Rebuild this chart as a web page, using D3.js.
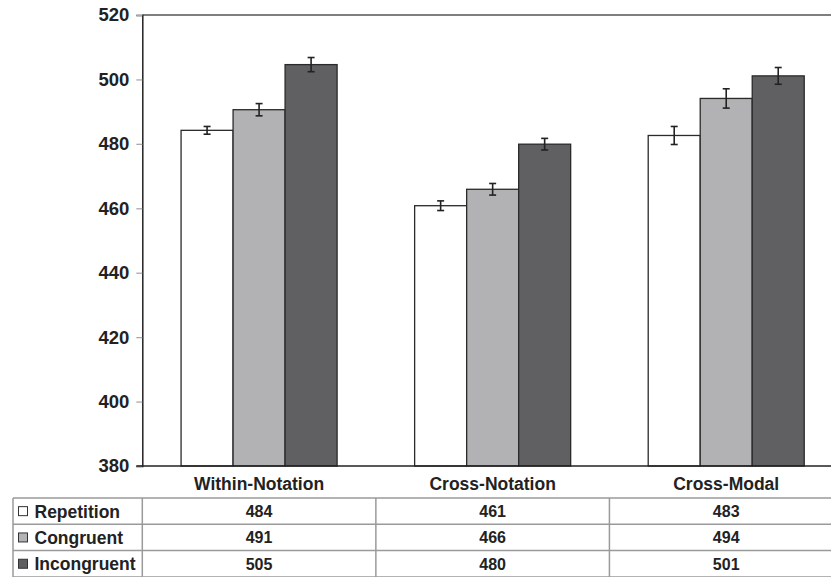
<!DOCTYPE html>
<html>
<head>
<meta charset="utf-8">
<script src="https://cdn.jsdelivr.net/npm/d3@7"></script>
<style>
  html, body { margin: 0; padding: 0; background: #fff; }
  svg { display: block; }
  text { font-family: "Liberation Sans", Arial, sans-serif; font-weight: bold; fill: #222; }
</style>
</head>
<body>
<svg id="chart" width="831" height="577"></svg>
<script>
const categories = ["Within-Notation", "Cross-Notation", "Cross-Modal"];
const seriesNames = ["Repetition", "Congruent", "Incongruent"];
const repetition = [484.2, 460.8, 482.6];
const congruent = [490.6, 465.9, 494.1];
const incongruent = [504.6, 479.9, 501.1];
const repetitionErr = [1.2, 1.5, 2.8];
const congruentErr = [1.9, 1.8, 3.0];
const incongruentErr = [2.2, 1.8, 2.6];
const yTicks = [380, 400, 420, 440, 460, 480, 500, 520];
const colors = ["#ffffff", "#b2b2b4", "#606062"];

const series = [
  { name: seriesNames[0], values: repetition, errs: repetitionErr, color: colors[0] },
  { name: seriesNames[1], values: congruent, errs: congruentErr, color: colors[1] },
  { name: seriesNames[2], values: incongruent, errs: incongruentErr, color: colors[2] }
];

const svg = d3.select("#chart");
const plotLeft = 142.3, plotRight = 843, plotTop = 15, plotBottom = 466;

const y = d3.scaleLinear().domain([380, 520]).range([plotBottom, plotTop]);
const x0 = d3.scaleBand().domain(categories).range([plotLeft, plotRight]).padding(0);
const bw = x0.bandwidth();
const x1 = d3.scaleBand().domain(seriesNames).range([bw * 0.166, bw * 0.834]).padding(0);

// top border of plot area
svg.append("line")
  .attr("x1", plotLeft).attr("x2", plotRight)
  .attr("y1", plotTop).attr("y2", plotTop)
  .attr("stroke", "#555").attr("stroke-width", 1.3);

// y axis
const yAxis = d3.axisLeft(y).tickValues(yTicks).tickSize(6).tickPadding(7).tickFormat(d3.format("d"));
const gy = svg.append("g").attr("transform", `translate(${plotLeft},0)`).call(yAxis);
gy.select(".domain").attr("stroke", "#222").attr("stroke-width", 1.5);
gy.selectAll(".tick line").attr("stroke", "#aaa").attr("stroke-width", 1.3);
gy.selectAll(".tick text").style("font-size", "18.5px").attr("fill", "#222");

// bars
const groups = svg.append("g").selectAll("g")
  .data(categories).join("g")
  .attr("transform", d => `translate(${x0(d)},0)`);

series.forEach(s => {
  groups.append("rect")
    .attr("x", (d) => x1(s.name))
    .attr("width", x1.bandwidth())
    .attr("y", (d, i) => y(s.values[i]))
    .attr("height", (d, i) => plotBottom - y(s.values[i]))
    .attr("fill", s.color)
    .attr("stroke", "#2a2a2a")
    .attr("stroke-width", 1.3);
});

// error bars
series.forEach(s => {
  const cx = x1(s.name) + x1.bandwidth() / 2;
  const eb = groups.append("g").attr("stroke", "#222").attr("stroke-width", 1.6);
  eb.append("line")
    .attr("x1", cx).attr("x2", cx)
    .attr("y1", (d, i) => y(s.values[i] + s.errs[i]))
    .attr("y2", (d, i) => y(s.values[i] - s.errs[i]));
  eb.append("line")
    .attr("x1", cx - 3.5).attr("x2", cx + 3.5)
    .attr("y1", (d, i) => y(s.values[i] + s.errs[i]))
    .attr("y2", (d, i) => y(s.values[i] + s.errs[i]));
  eb.append("line")
    .attr("x1", cx - 3.5).attr("x2", cx + 3.5)
    .attr("y1", (d, i) => y(s.values[i] - s.errs[i]))
    .attr("y2", (d, i) => y(s.values[i] - s.errs[i]));
});

// x axis line
svg.append("line")
  .attr("x1", plotLeft - 6).attr("x2", plotRight)
  .attr("y1", plotBottom).attr("y2", plotBottom)
  .attr("stroke", "#222").attr("stroke-width", 1.5);

// category labels
svg.append("g").selectAll("text")
  .data(categories).join("text")
  .attr("x", d => x0(d) + bw / 2)
  .attr("y", 489.5)
  .attr("text-anchor", "middle")
  .style("font-size", "17.5px")
  .text(d => d);

// data table
const tableLeft = 13, tableTop = 498, rowH = 26.3;
const table = svg.append("g");
const lineColor = "#9a9a9a";
for (let r = 0; r <= series.length; r++) {
  table.append("line")
    .attr("x1", tableLeft).attr("x2", plotRight)
    .attr("y1", tableTop + r * rowH).attr("y2", tableTop + r * rowH)
    .attr("stroke", lineColor).attr("stroke-width", 1.5);
}
table.append("line")
  .attr("x1", tableLeft).attr("x2", tableLeft)
  .attr("y1", tableTop).attr("y2", tableTop + series.length * rowH)
  .attr("stroke", lineColor).attr("stroke-width", 1.5);
categories.forEach(c => {
  table.append("line")
    .attr("x1", x0(c)).attr("x2", x0(c))
    .attr("y1", tableTop).attr("y2", tableTop + series.length * rowH)
    .attr("stroke", lineColor).attr("stroke-width", 1.5);
});

const fmt = d3.format(".0f");
series.forEach((s, r) => {
  const cy = tableTop + r * rowH + rowH / 2;
  table.append("rect")
    .attr("x", 18.5).attr("y", cy - 4.5)
    .attr("width", 9).attr("height", 9)
    .attr("fill", s.color).attr("stroke", "#333").attr("stroke-width", 1);
  table.append("text")
    .attr("x", 34.5).attr("y", cy + 6.5)
    .style("font-size", "17.5px")
    .text(s.name);
  categories.forEach((c, i) => {
    table.append("text")
      .attr("x", x0(c) + bw / 2).attr("y", cy + 6)
      .attr("text-anchor", "middle")
      .style("font-size", "16px")
      .text(fmt(s.values[i]));
  });
});
</script>
</body>
</html>
